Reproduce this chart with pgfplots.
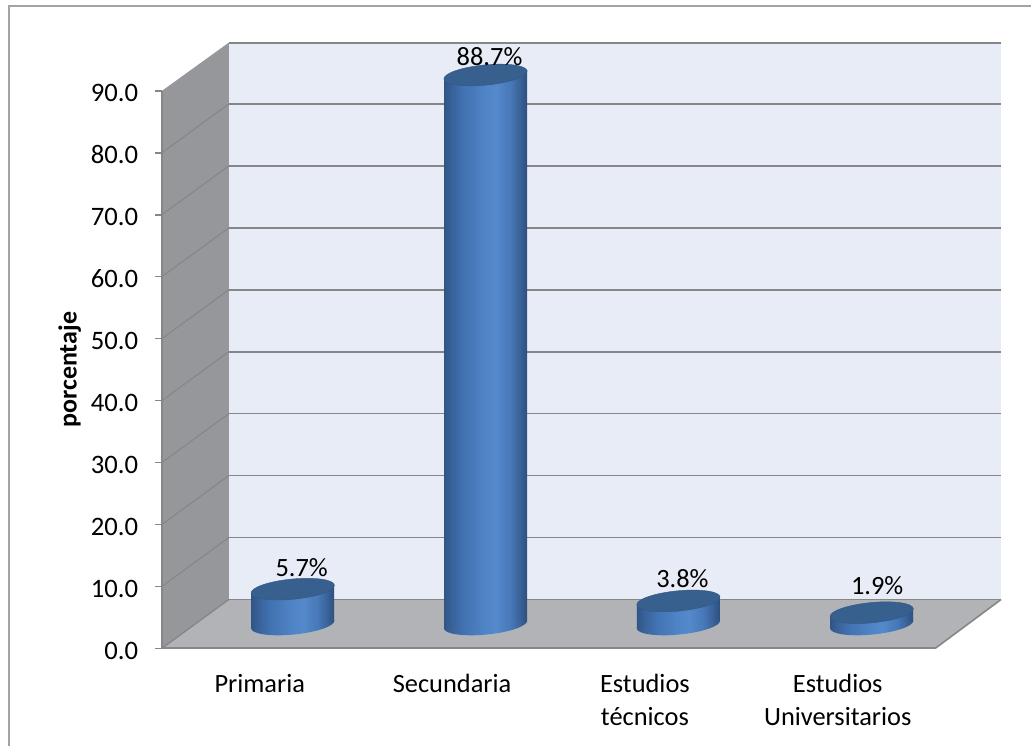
\documentclass[border=0pt]{standalone}
\usepackage{fontspec}
\setmainfont{Carlito}
\usepackage{pgfplots}
\pgfplotsset{compat=1.18}

\definecolor{framegray}{HTML}{A3A3A3}
\definecolor{axisgray}{HTML}{868686}
\definecolor{wallblue}{HTML}{E8ECF6}
\definecolor{sidegray}{HTML}{96979A}
\definecolor{floorgray}{HTML}{B1B3B6}
\definecolor{captop}{HTML}{38608F}

% Cylinder body: dark rims with a lighter band right of centre.
% A path shading spreads its middle 50bp over the path, so the stops run from 25bp to 75bp.
\pgfdeclarehorizontalshading{cylbody}{100bp}{
  rgb(0bp)=(0.19,0.33,0.52);
  rgb(25bp)=(0.19,0.33,0.52);
  rgb(29bp)=(0.22,0.38,0.60);
  rgb(37bp)=(0.26,0.45,0.70);
  rgb(50bp)=(0.31,0.52,0.78);
  rgb(56bp)=(0.33,0.54,0.80);
  rgb(65bp)=(0.28,0.47,0.72);
  rgb(71bp)=(0.22,0.38,0.59);
  rgb(75bp)=(0.18,0.31,0.49);
  rgb(100bp)=(0.18,0.31,0.49)}

% #1 centre x, #2 value, #3 left x, #4 right x
\newcommand{\cylinder}[4]{
  \path[shading=cylbody] (axis cs:#1,3.87) ellipse [x radius=31.4pt, y radius=7.6pt, rotate=5.5];
  \addplot[draw=none, shading=cylbody, y filter/.expression={y+3.87}]
    coordinates {(#3,-0.65) (#3,#2-0.65) (#4,#2+0.65) (#4,0.65)} -- cycle;
  \path[fill=captop, draw=captop!90!black, line width=0.3pt] (axis cs:#1,{#2+3.87}) ellipse [x radius=31.4pt, y radius=7.6pt, rotate=5.5];
}

\begin{document}
\begin{tikzpicture}
\begin{axis}[
  scale only axis,
  width=580.5pt, height=418.5pt,
  xmin=162, xmax=936, ymin=0, ymax=90,
  clip=false,
  axis on top,
  axis x line*=bottom,
  axis y line*=left,
  axis line style={axisgray, line width=1.5pt, -},
  tick align=outside,
  major tick length=5.25pt,
  y tick style={axisgray, line width=1.1pt},
  x tick style={draw=none},
  ytick={0,10,...,90},
  xtick={260,452.5,645.5,838.5},
  xticklabels={Primaria,Secundaria,{Estudios\\técnicos},{Estudios\\Universitarios}},
  xticklabel style={align=center, anchor=north, yshift=-10.5pt, font=\fontsize{19.8}{25}\selectfont},
  yticklabel style={font=\fontsize{20}{25}\selectfont, xshift=-9pt, yshift=-1.6pt},
  /pgf/number format/assume math mode=true,
  /pgf/number format/fixed,
  /pgf/number format/fixed zerofill,
  /pgf/number format/precision=1,
  scaled y ticks=false,
  ylabel={porcentaje},
  every axis y label/.style={at={(rel axis cs:-0.1192,0.5)}, rotate=90, anchor=center,
    font=\fontsize{19.5}{22}\selectfont\bfseries},
]
  % page extent
  \path (axis cs:0,-15.81) rectangle (axis cs:1032,104.68);
  % chart area border: only the left and top edges are in view
  \addplot[framegray, line width=1.4pt] coordinates {(9,-15.81) (9,103.65) (1032,103.65)};

  % walls and floor
  \addplot[draw=none, fill=wallblue] coordinates {(229,7.9) (1002,7.9) (1002,97.8) (229,97.8)} -- cycle;
  \addplot[draw=none, fill=sidegray] coordinates {(162,0) (229,7.9) (229,97.8) (162,90)} -- cycle;
  \addplot[draw=none, fill=floorgray] coordinates {(162,0) (936,0) (1002,7.9) (229,7.9)} -- cycle;

  % gridlines on the side wall
  \pgfplotsinvokeforeach{10,20,...,80}{
    \addplot[axisgray, line width=0.8pt] coordinates {(162,#1) (229,#1+7.9)};
  }
  % gridlines on the back wall
  \pgfplotsinvokeforeach{10,20,...,80}{
    \addplot[axisgray, line width=1.2pt] coordinates {(229,#1+7.9) (1002,#1+7.9)};
  }
  \addplot[axisgray, line width=1.5pt] coordinates {(229,97.8) (1002,97.8)};
  \addplot[axisgray, line width=1.2pt] coordinates {(229,7.9) (1002,7.9)};
  \addplot[axisgray, line width=1pt] coordinates {(162,0) (229,7.9)};
  \addplot[axisgray, line width=1.2pt] coordinates {(936,0) (1002,7.9)};

  \cylinder{293}{5.7}{251.5}{334.5}
  \cylinder{486}{88.7}{444.5}{527.5}
  \cylinder{679}{3.8}{637.5}{720.5}
  \cylinder{872.5}{1.9}{831}{914}

  \node[font=\fontsize{19.8}{25}\selectfont] at (axis cs:302,13.06) {5.7\%};
  \node[font=\fontsize{19.8}{25}\selectfont] at (axis cs:490,95.6) {88.7\%};
  \node[font=\fontsize{19.8}{25}\selectfont] at (axis cs:683,11.3) {3.8\%};
  \node[font=\fontsize{19.8}{25}\selectfont] at (axis cs:878,10.16) {1.9\%};
\end{axis}
\end{tikzpicture}
\end{document}
